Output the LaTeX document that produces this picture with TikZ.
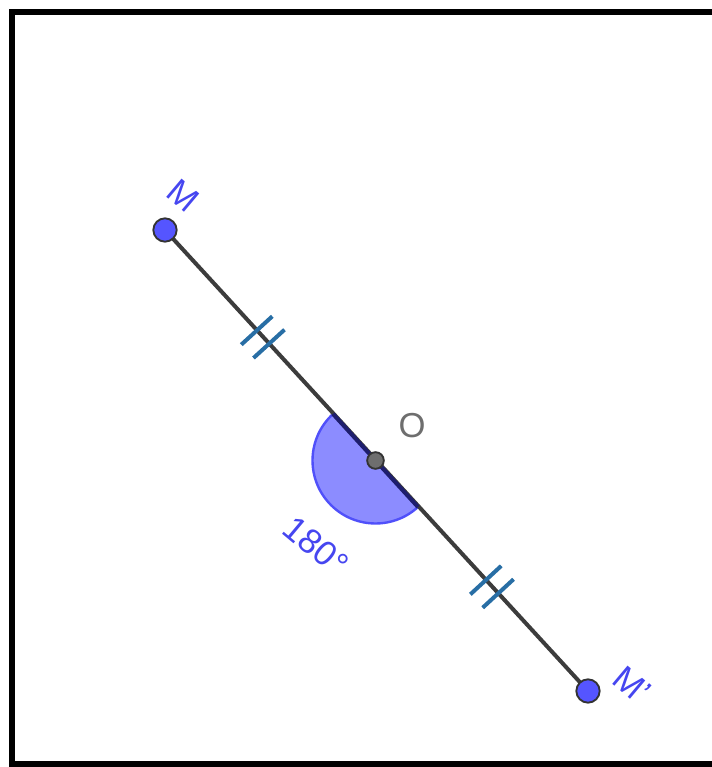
\documentclass[tikz,border=0pt]{standalone}
\usepackage{fontspec}
\setmainfont{Liberation Sans}
\usetikzlibrary{calc}
\definecolor{ptblue}{RGB}{85,85,255}
\definecolor{lblblue}{RGB}{70,70,240}
\definecolor{sectfill}{RGB}{140,140,255}
\definecolor{sectedge}{RGB}{80,80,250}
\definecolor{chordc}{RGB}{30,30,110}
\definecolor{tickc}{RGB}{40,110,165}
\definecolor{segc}{RGB}{60,60,60}
\definecolor{ptgray}{RGB}{110,110,110}
\begin{document}
\begin{tikzpicture}[x=0.75pt,y=0.75pt,
  frame/.style={draw=black,line width=3.9pt},
  seg/.style={draw=segc,line width=3pt},
  tickmark/.style={draw=tickc,line width=3pt},
  bluept/.style={circle,fill=ptblue,draw=black!80,line width=1.4pt,minimum size=17.5pt,inner sep=0pt},
  graypt/.style={circle,fill=ptgray,draw=black!80,line width=1.4pt,minimum size=12.5pt,inner sep=0pt},
  lbl/.style={text=lblblue,inner sep=0pt,font=\fontsize{26}{30}\selectfont,rotate=-40},
  glbl/.style={text=ptgray,inner sep=0pt,font=\fontsize{26}{30}\selectfont}]
\useasboundingbox (0,0) rectangle (712,767);
\clip (0,0) rectangle (712,767);
\draw[frame] (12,3) rectangle (760,755);
\coordinate (M) at (165,537);
\coordinate (O) at (375.5,306.5);
\coordinate (Mp) at (588,76);
% sector
\coordinate (A1) at ($(O)+(132.4:63)$);
\coordinate (A2) at ($(O)+(312.4:63)$);
\fill[sectfill] (O) -- (A1) arc[start angle=132.4,end angle=312.4,radius=63] -- cycle;
\draw[sectedge,line width=1.8pt] (A1) arc[start angle=132.4,end angle=312.4,radius=63];
% segment
\draw[seg] (M) -- (Mp);
\draw[chordc,line width=3pt] (A1) -- (A2);
% ticks
\coordinate (t1) at ($(M)!0.436!(O)$);
\coordinate (t2) at ($(M)!0.494!(O)$);
\coordinate (t3) at ($(O)!0.519!(Mp)$);
\coordinate (t4) at ($(O)!0.577!(Mp)$);
\foreach \t in {t1,t2,t3,t4}{
  \draw[tickmark] ($(\t)!15.75pt!90:(O)$) -- ($(\t)!15.75pt!-90:(O)$);
}
% points
\node[bluept] (Mdot) at (M) {};
\node[bluept] (Mpdot) at (Mp) {};
\node[graypt] (Odot) at (O) {};
% labels
\node[lbl] (LM) at (183,571) {M};
\node[lbl] (LMp) at (632,82) {M'};
\node[lbl] (L180) at (316,221) {180°};
\node[glbl] (LO) at (412,341) {O};
\end{tikzpicture}
\end{document}
